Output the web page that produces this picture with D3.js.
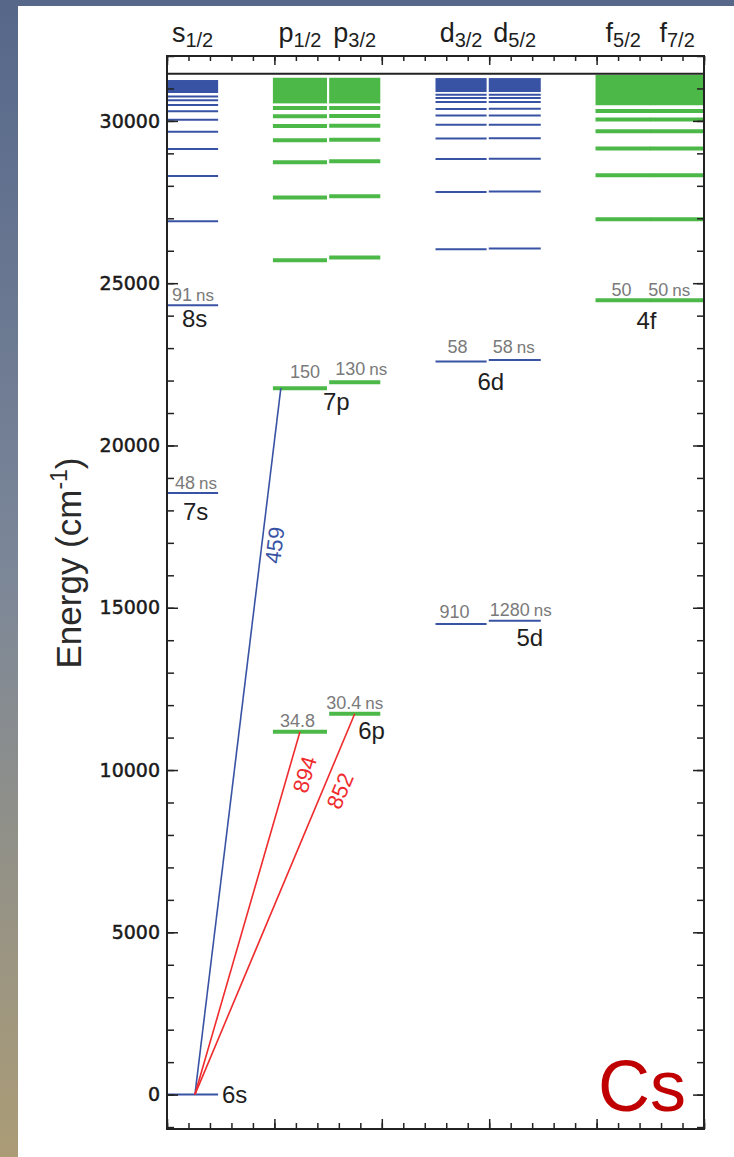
<!DOCTYPE html>
<html>
<head>
<meta charset="utf-8">
<script src="https://cdn.jsdelivr.net/npm/d3@7"></script>
<style>
  body { margin: 0; padding: 0; }
  svg { display: block; }
</style>
</head>
<body>
<svg class="levelChart"></svg>
<script>
// columns of the term diagram
var columns = ["s1/2", "p1/2", "p3/2", "d3/2", "d5/2", "f5/2", "f7/2"];
var headLetters = ["s", "p", "p", "d", "d", "f", "f"];
var headSubs = ["1/2", "1/2", "3/2", "3/2", "5/2", "5/2", "7/2"];

// level energies in cm^-1, one array per column
var sHalf = [0, 18535.5, 24317.1, 26910.7, 28300.2, 29131.7, 29668.8, 30035.4, 30297.2, 30490.6, 30640, 30752];
var pHalf = [11178.3, 21765.4, 25708.8, 27637.0, 28726.8, 29403.4, 29842.3, 30142.3, 30394];
var pThreeHalf = [11732.3, 21946.4, 25791.5, 27681.7, 28753.7, 29421.0, 29854.0, 30150.5, 30400];
var dThreeHalf = [14499.3, 22588.8, 26047.8, 27811.2, 28828.7, 29461.5, 29880, 30166, 30370, 30581, 30707, 30807];
var dFiveHalf = [14597.1, 22631.7, 26068.8, 27822.9, 28836.0, 29467.0, 29883, 30169, 30372, 30583, 30709, 30809];
var fFiveHalf = [24472.0, 26971.1, 28329.4, 29147.9, 29680.4, 30045.2, 30302];
var fSevenHalf = [24472.2, 26971.2, 28329.5, 29148.0, 29680.5, 30045.3, 30302];
var levelSets = [sHalf, pHalf, pThreeHalf, dThreeHalf, dFiveHalf, fFiveHalf, fSevenHalf];

// dense Rydberg levels near the limit, drawn as a band
var bandLow = [30860, 30540, 30540, 30890, 30890, 30483, 30483];
var bandHigh = [31260, 31330, 31330, 31320, 31320, 31420, 31420];
var ionLimit = 31450;

// lifetimes above the levels
var lifeCols = ["s1/2", "s1/2", "p1/2", "p3/2", "d3/2", "d5/2", "d3/2", "d5/2", "p1/2", "p3/2", "f5/2", "f7/2"];
var lifeEnergy = [24317.1, 18535.5, 21765.4, 21946.4, 22588.8, 22631.7, 14499.3, 14597.1, 11178.3, 11732.3, 24472.0, 24472.2];
var lifeNums = ["91", "48", "150", "130", "58", "58", "910", "1280", "34.8", "30.4", "50", "50"];
var lifeUnits = ["ns", "ns", "", "ns", "", "ns", "", "ns", "", "ns", "", "ns"];

// state names
var stateNames = ["8s", "7s", "7p", "6d", "5d", "6p", "4f", "6s"];
var stateCols = ["s1/2", "s1/2", "p1/2", "d3/2", "d3/2", "p3/2", "f5/2", "s1/2"];
var stateEnergy = [24317.1, 18535.5, 21765.4, 22588.8, 14499.3, 11732.3, 24472.0, 0];

// transitions (wavelength in nm)
var transLabels = ["459", "894", "852"];
var transTo = [21765.4, 11178.3, 11732.3];

// ---------- layout (positions, not data) ----------
var screen = { width: 734, height: 1157 };
var frame = { left: 167, right: 704, top: 56, bottom: 1129 };
var colSpan = { //x extents in axis units
  "s1/2": [0, 2.38], "p1/2": [4.93, 7.45], "p3/2": [7.55, 9.93],
  "d3/2": [12.5, 14.88], "d5/2": [14.98, 17.4], "f5/2": [19.95, 22.53], "f7/2": [22.5, 25]
};
var transFromX = 1.3;
var transToX = [5.3, 6.19, 8.74];
var transPos = [0.78, 0.895, 0.814]; //fraction along the line
var transOff = [20.5, 24, 24];
var lifeOff = [[5, -4], [8, -4], [17, -10], [6, -7], [12, -8], [4, -7], [4, -6], [1, -5], [7, -5], [-3, -5], [16, -4], [-2, -4]];
var stateOff = [[15, 22], [16, 27], [50, 22], [42, 29], [81, 22], [29, 25], [41, 29], [55, 8]];

var blue = "#3953a4";
var green = "#4cb848";
var red = "#ef2b2d";
var font = "'Liberation Sans', Arial, sans-serif";

var svg = d3.select(".levelChart")
            .attr("width", screen.width)
            .attr("height", screen.height);

// background
var defs = svg.append("defs");
var grad = defs.append("linearGradient")
               .attr("id", "bg")
               .attr("x1", 0).attr("y1", 0).attr("x2", 0).attr("y2", 1);
grad.append("stop").attr("offset", "0%").attr("stop-color", "#56678a");
grad.append("stop").attr("offset", "50%").attr("stop-color", "#7c8798");
grad.append("stop").attr("offset", "100%").attr("stop-color", "#ab9c76");

svg.append("rect").attr("width", screen.width).attr("height", screen.height).attr("fill", "url(#bg)");
svg.append("rect").attr("x", 18).attr("y", 6)
   .attr("width", screen.width - 18).attr("height", screen.height - 6)
   .attr("fill", "#ffffff");

var xScale = d3.scaleLinear()
               .domain([0, 25])
               .range([frame.left, frame.right]);

var yScale = d3.scaleLinear()
               .domain([-1060, 32000])
               .range([frame.bottom, frame.top]);

var isGreen = function(c) { return c.charAt(0) == "p" || c.charAt(0) == "f"; };

// bands
svg.append("g")
   .selectAll("rect")
   .data(columns)
   .enter()
   .append("rect")
   .attr("x", function(d) { return xScale(colSpan[d][0]); })
   .attr("width", function(d) { return xScale(colSpan[d][1]) - xScale(colSpan[d][0]); })
   .attr("y", function(d, i) { return yScale(bandHigh[i]); })
   .attr("height", function(d, i) { return yScale(bandLow[i]) - yScale(bandHigh[i]); })
   .attr("fill", function(d) { return isGreen(d) ? green : blue; });

// levels
var levels = [];
columns.forEach(function(c, i) {
  levelSets[i].forEach(function(e) { levels.push({ col: c, energy: e }); });
});

svg.append("g")
   .selectAll("line")
   .data(levels)
   .enter()
   .append("line")
   .attr("x1", function(d) { return xScale(colSpan[d.col][0]); })
   .attr("x2", function(d) { return xScale(colSpan[d.col][1]); })
   .attr("y1", function(d) { return yScale(d.energy); })
   .attr("y2", function(d) { return yScale(d.energy); })
   .attr("stroke", function(d) { return isGreen(d.col) ? green : blue; })
   .attr("stroke-width", function(d) { return isGreen(d.col) ? 4 : 2; });

// ionization limit
svg.append("line")
   .attr("x1", frame.left).attr("x2", frame.right)
   .attr("y1", yScale(ionLimit)).attr("y2", yScale(ionLimit))
   .attr("stroke", "#222").attr("stroke-width", 2);

// transitions
var trans = transLabels.map(function(t, i) {
  return { label: t, x1: xScale(transFromX), y1: yScale(0), x2: xScale(transToX[i]), y2: yScale(transTo[i]), i: i };
});

svg.append("g")
   .selectAll("line")
   .data(trans)
   .enter()
   .append("line")
   .attr("x1", function(d) { return d.x1; })
   .attr("y1", function(d) { return d.y1; })
   .attr("x2", function(d) { return d.x2; })
   .attr("y2", function(d) { return d.y2; })
   .attr("stroke", function(d, i) { return i == 0 ? blue : red; })
   .attr("stroke-width", 1.6);

svg.append("g")
   .selectAll("text")
   .data(trans)
   .enter()
   .append("text")
   .attr("transform", function(d) {
     var t = transPos[d.i];
     var px = d.x1 + (d.x2 - d.x1) * t;
     var py = d.y1 + (d.y2 - d.y1) * t;
     var ang = Math.atan2(d.y2 - d.y1, d.x2 - d.x1) * 180 / Math.PI;
     return "translate(" + px + "," + py + ") rotate(" + ang + ")";
   })
   .attr("y", function(d) { return transOff[d.i]; })
   .attr("text-anchor", "middle")
   .attr("font-family", font)
   .attr("font-size", 22)
   .attr("fill", function(d, i) { return i == 0 ? blue : red; })
   .text(function(d) { return d.label; });

// lifetimes
var life = svg.append("g")
   .selectAll("text")
   .data(lifeNums)
   .enter()
   .append("text")
   .attr("x", function(d, i) { return xScale(colSpan[lifeCols[i]][0]) + lifeOff[i][0]; })
   .attr("y", function(d, i) { return yScale(lifeEnergy[i]) + lifeOff[i][1]; })
   .attr("font-family", font)
   .attr("font-size", 18)
   .attr("fill", "#7a7a7a");
life.append("tspan").text(function(d) { return d; });
life.append("tspan")
    .attr("font-size", 17)
    .attr("dx", 4)
    .text(function(d, i) { return lifeUnits[i]; });

// state names
svg.append("g")
   .selectAll("text")
   .data(stateNames)
   .enter()
   .append("text")
   .attr("x", function(d, i) { return xScale(colSpan[stateCols[i]][0]) + stateOff[i][0]; })
   .attr("y", function(d, i) { return yScale(stateEnergy[i]) + stateOff[i][1]; })
   .attr("font-family", font)
   .attr("font-size", 24)
   .attr("fill", "#1e1e1e")
   .text(function(d) { return d; });

// column headers
var heads = svg.append("g")
   .selectAll("text")
   .data(columns)
   .enter()
   .append("text")
   .attr("x", function(d) { return xScale((colSpan[d][0] + colSpan[d][1]) / 2); })
   .attr("y", 42)
   .attr("text-anchor", "middle")
   .attr("font-family", font)
   .attr("font-size", 27)
   .attr("fill", "#1e1e1e");
heads.append("tspan").text(function(d, i) { return headLetters[i]; });
heads.append("tspan").attr("font-size", 20).attr("dy", 5).text(function(d, i) { return headSubs[i]; });

// axes: minor ticks
var minorY = d3.range(-1000, 32001, 1000);
var majorY = d3.range(0, 30001, 5000);
var minorX = d3.range(0, 26, 1);
var majorX = d3.range(0, 26, 5);

svg.append("g").attr("transform", "translate(" + frame.left + ",0)")
   .call(d3.axisLeft(yScale).tickValues(minorY).tickSize(-7).tickFormat(""));
svg.append("g").attr("transform", "translate(" + frame.right + ",0)")
   .call(d3.axisRight(yScale).tickValues(minorY).tickSize(-7).tickFormat(""));
svg.append("g").attr("transform", "translate(0," + frame.top + ")")
   .call(d3.axisTop(xScale).tickValues(minorX).tickSize(-5).tickFormat(""));
svg.append("g").attr("transform", "translate(0," + frame.bottom + ")")
   .call(d3.axisBottom(xScale).tickValues(minorX).tickSize(-6).tickFormat(""));

// major ticks
var yAxis = d3.axisLeft(yScale).tickValues(majorY).tickSize(-11).tickPadding(7).tickFormat(d3.format("d"));
svg.append("g")
   .classed("yAxis", true)
   .attr("transform", "translate(" + frame.left + ",0)")
   .call(yAxis);
svg.append("g").attr("transform", "translate(" + frame.right + ",0)")
   .call(d3.axisRight(yScale).tickValues(majorY).tickSize(-11).tickFormat(""));
svg.append("g").attr("transform", "translate(0," + frame.top + ")")
   .call(d3.axisTop(xScale).tickValues(majorX).tickSize(-9).tickFormat(""));
svg.append("g").attr("transform", "translate(0," + frame.bottom + ")")
   .call(d3.axisBottom(xScale).tickValues(majorX).tickSize(-10).tickFormat(""));

svg.selectAll(".domain").remove();
svg.selectAll(".tick line").attr("stroke", "#222").attr("stroke-width", 1.5);
svg.select(".yAxis").selectAll("text")
   .attr("font-family", "'DejaVu Sans', sans-serif")
   .attr("font-size", 19)
   .attr("fill", "#1a1a1a")
   .attr("stroke", "#1a1a1a")
   .attr("stroke-width", 0.5);

// frame
svg.append("rect")
   .attr("x", frame.left).attr("y", frame.top)
   .attr("width", frame.right - frame.left).attr("height", frame.bottom - frame.top)
   .attr("fill", "none").attr("stroke", "#222").attr("stroke-width", 2);

// axis title
var title = svg.append("text")
   .attr("transform", "translate(81,563) rotate(-90)")
   .attr("text-anchor", "middle")
   .attr("font-family", font)
   .attr("font-size", 35)
   .attr("fill", "#2a2a2a");
title.append("tspan").text("Energy (cm");
title.append("tspan").attr("font-size", 23).attr("dy", -14).text("-1");
title.append("tspan").attr("dy", 14).text(")");

// element symbol
svg.append("text")
   .attr("x", 686).attr("y", 1111)
   .attr("text-anchor", "end")
   .attr("font-family", font)
   .attr("font-size", 72)
   .attr("fill", "#c00000")
   .text("Cs");
</script>
</body>
</html>
